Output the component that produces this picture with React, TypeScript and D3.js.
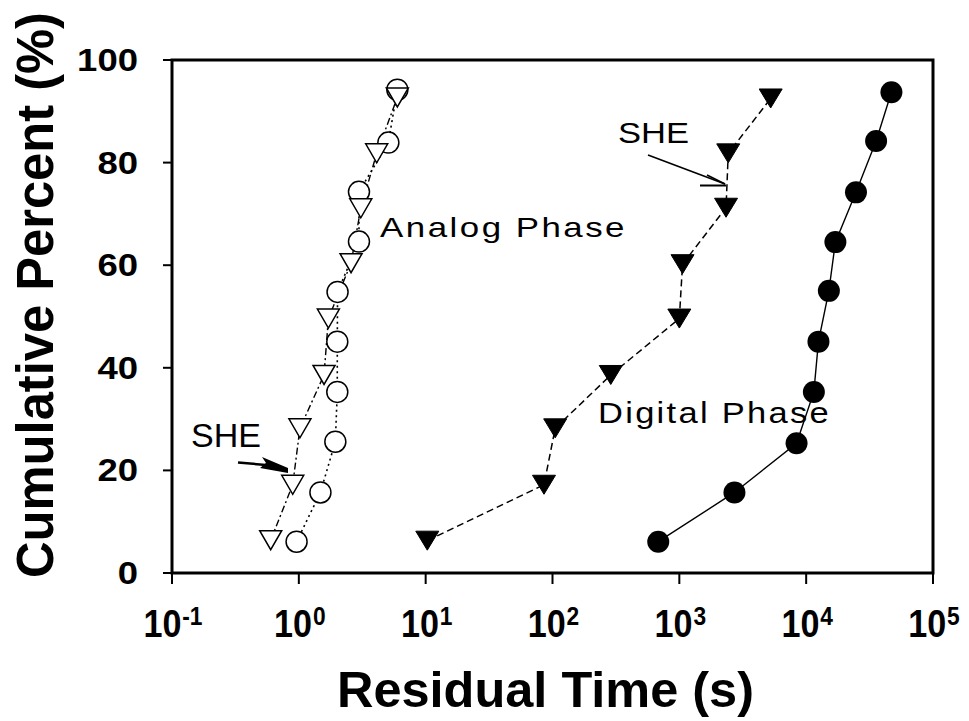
import React from "react";
import * as d3 from "d3";

// ---- Data ----
const analogCircleTime = [0.96, 1.48, 1.94, 2.01, 2.01, 2.02, 2.98, 2.98, 5.08, 5.98];
const analogCircleCum = [6.1, 15.7, 25.6, 35.3, 45.1, 54.8, 64.6, 74.3, 83.9, 94.2];

const analogTriTime = [0.6, 0.895, 1.02, 1.58, 1.71, 2.58, 3.08, 4.11, 5.98];
const analogTriCum = [6.4, 17.2, 28.2, 38.6, 49.6, 60.4, 71.1, 81.8, 92.7];

const digitalTriTime = [10.3, 85.7, 105, 288, 1000, 1060, 2335, 2430, 5250];
const digitalTriCum = [6.3, 17.2, 28.2, 38.6, 49.6, 60.2, 71.2, 81.8, 92.5];

const digitalCircleTime = [682, 2720, 8400, 11500, 12500, 15100, 17000, 24700, 35600, 47000];
const digitalCircleCum = [6.1, 15.7, 25.3, 35.3, 45.1, 55.0, 64.5, 74.2, 84.2, 93.7];

const xTickExponents = [-1, 0, 1, 2, 3, 4, 5];
const yTicks = [0, 20, 40, 60, 80, 100];

const W = 969;
const H = 721;
const FONT = "'Liberation Sans', Arial, Helvetica, sans-serif";

const x = d3.scaleLog().domain([0.1, 1e5]).range([172, 933]);
const y = d3.scaleLinear().domain([0, 100]).range([573, 60]);

type Pt = [number, number];
const zip = (a: number[], b: number[]): Pt[] => a.map((v, i) => [v, b[i]]);

const line = d3
  .line<Pt>()
  .x((d) => x(d[0]))
  .y((d) => y(d[1]));

const triPath = (cx: number, cy: number, w = 23, h = 19) =>
  `M${cx - w / 2},${cy - h / 2}L${cx + w / 2},${cy - h / 2}L${cx},${cy + h / 2}Z`;

export default function App() {
  const ac = zip(analogCircleTime, analogCircleCum);
  const at = zip(analogTriTime, analogTriCum);
  const dt = zip(digitalTriTime, digitalTriCum);
  const dc = zip(digitalCircleTime, digitalCircleCum);

  return (
    <svg
      width={W}
      height={H}
      style={{ position: "absolute", left: 0, top: 0, background: "#fff" }}
      fontFamily={FONT}
    >
      <rect x={0} y={0} width={W} height={H} fill="#fff" />

      {/* connecting lines */}
      <path d={line(ac) || ""} fill="none" stroke="#000" strokeWidth={1.6} strokeDasharray="2,3.5" />
      <path d={line(at) || ""} fill="none" stroke="#000" strokeWidth={1.4} strokeDasharray="7,3,2,3" />
      <path d={line(dt) || ""} fill="none" stroke="#000" strokeWidth={1.5} strokeDasharray="7,4" />
      <path d={line(dc) || ""} fill="none" stroke="#000" strokeWidth={1.4} />

      {/* markers */}
      {ac.map((d, i) => (
        <circle key={"ac" + i} cx={x(d[0])} cy={y(d[1])} r={10.5} fill="#fff" stroke="#000" strokeWidth={1.5} />
      ))}
      {at.map((d, i) => (
        <path key={"at" + i} d={triPath(x(d[0]), y(d[1]), 22, 19)} fill="#fff" stroke="#000" strokeWidth={1.5} />
      ))}
      {dt.map((d, i) => (
        <path key={"dt" + i} d={triPath(x(d[0]), y(d[1]), 23, 19)} fill="#000" stroke="#000" strokeWidth={1} />
      ))}
      {dc.map((d, i) => (
        <circle key={"dc" + i} cx={x(d[0])} cy={y(d[1])} r={11} fill="#000" />
      ))}

      {/* frame */}
      <rect x={172} y={60} width={761} height={513} fill="none" stroke="#000" strokeWidth={3} />

      {/* y ticks */}
      {yTicks.map((t) => (
        <g key={"yt" + t}>
          <line x1={163} x2={172} y1={y(t)} y2={y(t)} stroke="#000" strokeWidth={2} />
          <text
            x={138}
            y={y(t) + 11}
            textAnchor="end"
            fontSize={31}
            fontWeight="bold"
            textLength={String(t).length * 20.3}
            lengthAdjust="spacingAndGlyphs"
          >
            {t}
          </text>
        </g>
      ))}

      {/* x ticks */}
      {xTickExponents.map((e) => {
        const px = x(Math.pow(10, e));
        return (
          <g key={"xt" + e}>
            <line x1={px} x2={px} y1={573} y2={584} stroke="#000" strokeWidth={2} />
            <text
              transform={`translate(${px + 1},637) scale(0.875,1)`}
              textAnchor="middle"
              fontWeight="bold"
            >
              <tspan fontSize={39}>10</tspan>
              <tspan fontSize={26} dy={-12} dx={1}>
                {String(e)}
              </tspan>
            </text>
          </g>
        );
      })}

      {/* axis titles */}
      <text
        x={337}
        y={707}
        fontSize={50}
        fontWeight="bold"
        textLength={417}
        lengthAdjust="spacingAndGlyphs"
      >
        Residual Time (s)
      </text>
      <text
        transform="translate(53,578) rotate(-90)"
        x={0}
        y={0}
        fontSize={51}
        fontWeight="bold"
        textLength={566}
        lengthAdjust="spacingAndGlyphs"
      >
        Cumulative Percent (%)
      </text>

      {/* annotations */}
      <text x={380} y={237} fontSize={28} letterSpacing={2} textLength={247} lengthAdjust="spacingAndGlyphs">
        Analog Phase
      </text>
      <text x={598} y={423} fontSize={30} letterSpacing={2} textLength={233} lengthAdjust="spacingAndGlyphs">
        Digital Phase
      </text>
      <text x={191} y={447} fontSize={33} textLength={70} lengthAdjust="spacingAndGlyphs">
        SHE
      </text>
      <text x={618} y={143} fontSize={30} textLength={71} lengthAdjust="spacingAndGlyphs">
        SHE
      </text>

      {/* analog SHE arrow (filled) */}
      <line x1={238} y1={462.5} x2={266} y2={465} stroke="#000" strokeWidth={2.5} />
      <path d="M262,457 L288,468 L288,473 L260,468 L266,463 Z" fill="#000" />

      {/* digital SHE arrow (open head) */}
      <line x1={648} y1={155} x2={725} y2={184} stroke="#000" strokeWidth={1.6} />
      <line x1={700} y1={185.5} x2={726} y2={185.5} stroke="#000" strokeWidth={2} />
      <line x1={707} y1={175} x2={725} y2={184} stroke="#000" strokeWidth={1.6} />
    </svg>
  );
}
